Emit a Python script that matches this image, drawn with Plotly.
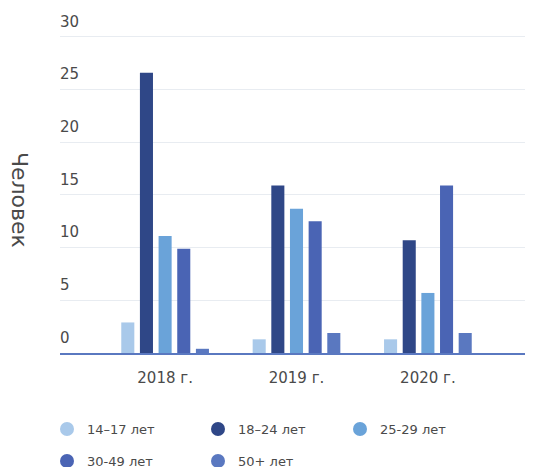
import plotly.graph_objects as go

years = ["2018 г.", "2019 г.", "2020 г."]
groups = ["14–17 лет", "18–24 лет", "25-29 лет", "30-49 лет", "50+ лет"]
v_14_17 = [2.9, 1.3, 1.3]
v_18_24 = [26.6, 15.9, 10.7]
v_25_29 = [11.1, 13.7, 5.7]
v_30_49 = [9.9, 12.5, 15.9]
v_50 = [0.4, 1.9, 1.9]
series = [v_14_17, v_18_24, v_25_29, v_30_49, v_50]
colors = ["#a9c9ea", "#2f4787", "#6aa3d9", "#4a64b4", "#5a78c0"]
y_ticks = [0, 5, 10, 15, 20, 25, 30]

W, H = 533, 467
OFF = 8  # page body margin offset
FONT = "DejaVu Sans"
TXT = "#4a4a4a"

fig = go.Figure()
for name, vals, col in zip(groups, series, colors):
    fig.add_trace(go.Bar(x=years, y=vals, name=name, marker_color=col,
                         marker_line_width=0, showlegend=False))

leg_pos = [(67, 429), (218, 429), (360, 429), (67, 461), (218, 461)]
layout_legends = {}
for i, (name, col, (px, py)) in enumerate(zip(groups, colors, leg_pos)):
    lname = "legend" if i == 0 else f"legend{i+1}"
    fig.add_trace(go.Scatter(x=[None], y=[None], mode="markers", name=name,
                             marker=dict(color=col, size=14, symbol="circle"),
                             legend=lname, showlegend=True))
    layout_legends[lname] = dict(
        xref="container", yref="container",
        x=(px - OFF - 20) / W, y=1 - (py - OFF) / H,
        xanchor="left", yanchor="middle",
        bgcolor="rgba(0,0,0,0)", borderwidth=0,
        font=dict(family=FONT, size=13, color=TXT), itemsizing="trace",
    )

fig.update_layout(
    width=W, height=H,
    margin=dict(l=52, r=8, t=0, b=122, autoexpand=False),
    paper_bgcolor="white", plot_bgcolor="white",
    barmode="group", bargap=0.29, bargroupgap=0.3,
    font=dict(family=FONT, color=TXT),
    **layout_legends,
)
fig.update_xaxes(
    type="category", range=[-0.8, 2.8], showgrid=False,
    showline=True, linecolor="#5a78c0", linewidth=2,
    ticks="outside", ticklen=10, tickcolor="rgba(0,0,0,0)",
    tickfont=dict(family=FONT, size=15, color=TXT),
)
fig.update_yaxes(
    range=[0, 32.75], tickvals=y_ticks, showgrid=True, gridcolor="#e8ecf1",
    gridwidth=1, zeroline=False, showline=False,
    ticklabelposition="inside top", ticklabelstandoff=-3, ticklabelshift=-5,
    tickfont=dict(family=FONT, size=15, color=TXT),
)
fig.add_annotation(
    text="Человек", xref="paper", yref="paper", x=-0.084, y=0.443,
    xanchor="center", yanchor="middle", showarrow=False, textangle=90,
    font=dict(family=FONT, size=22, color=TXT),
)
fig.write_html("out.html")
